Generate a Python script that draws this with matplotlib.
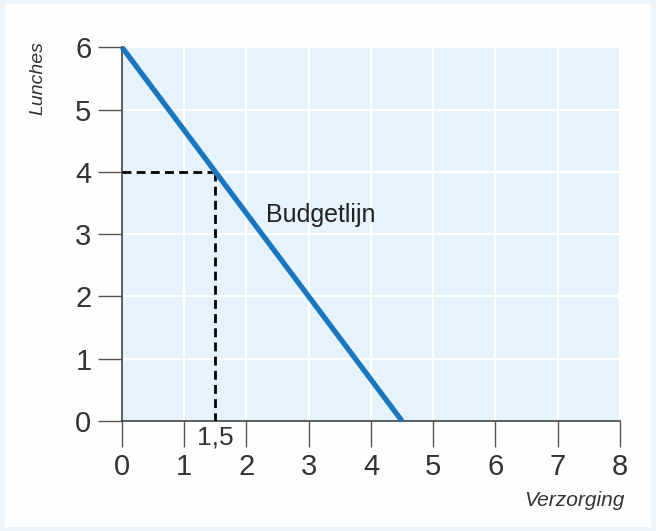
"""
Budgetlijn: lunches tegen verzorging, met hulplijnen bij 1,5 verzorging
"""
#%% Import libraries ###########################################################
import numpy as np
import matplotlib.pyplot as plt
from matplotlib.patches import Rectangle

#%% Data #######################################################################
budget_x = [0, 4.5]          # verzorging
budget_y = [6, 0]            # lunches
point_x = 1.5
point_y = 4
x_ticks = [0, 1, 2, 3, 4, 5, 6, 7, 8]
y_ticks = [0, 1, 2, 3, 4, 5, 6]

#%% Plot #######################################################################
def main():
    plt.rcParams['font.family'] = ['Liberation Sans', 'DejaVu Sans']
    fig = plt.figure(figsize=(6.56, 5.31), dpi=100)
    fig.patch.set_facecolor('#edf5fb')
    fig.patches.append(Rectangle((0.008, 0.008), 0.984, 0.984, transform=fig.transFigure,
                                 facecolor='#fcfeff', edgecolor='none', zorder=-1))
    ax = fig.add_axes([0.186, 0.207, 0.759, 0.704])
    ax.set_facecolor('#e6f3fc')

    # Grid
    for x in x_ticks[1:]:
        ax.axvline(x, color='white', linewidth=1.6, zorder=1)
    for y in y_ticks[1:]:
        ax.axhline(y, color='white', linewidth=1.6, zorder=1)

    # Budget line
    ax.plot(budget_x, budget_y, color='#1a76bf', linewidth=3.8,
            solid_capstyle='butt', zorder=4, clip_on=False)
    # Dashed helper lines
    ax.plot([0, point_x], [point_y, point_y], color='black', linewidth=2,
            dashes=(3.2, 1.9), zorder=3)
    ax.plot([point_x, point_x], [point_y, 0], color='black', linewidth=2,
            dashes=(3.2, 1.9), zorder=3)

    ax.text(2.32, 3.3, 'Budgetlijn', fontsize=18, color='#222222', ha='left', va='center')
    ax.text(point_x, -0.27, '1,5', fontsize=19, color='#333333', ha='center', va='center')

    ax.set_xlim(0, 8)
    ax.set_ylim(0, 6)
    ax.set_xticks(x_ticks)
    ax.set_yticks(y_ticks)
    ax.tick_params(axis='x', length=19, width=1, color='#555555', pad=4,
                   labelsize=21, labelcolor='#333333')
    ax.tick_params(axis='y', length=17, width=1, color='#555555', pad=5,
                   labelsize=21, labelcolor='#333333')
    for side in ['top', 'right']:
        ax.spines[side].set_visible(False)
    for side in ['left', 'bottom']:
        ax.spines[side].set_color('#444444')
        ax.spines[side].set_linewidth(1.2)

    fig.text(0.876, 0.058, 'Verzorging', fontsize=15, style='italic', color='#333333',
             ha='center', va='center')
    fig.text(0.058, 0.853, 'Lunches', fontsize=14, style='italic', color='#333333',
             ha='center', va='center', rotation=90)

    fig.savefig('out.png', dpi=100, facecolor=fig.get_facecolor())

#%% Run main ###################################################################
if __name__ == '__main__':
    main()
